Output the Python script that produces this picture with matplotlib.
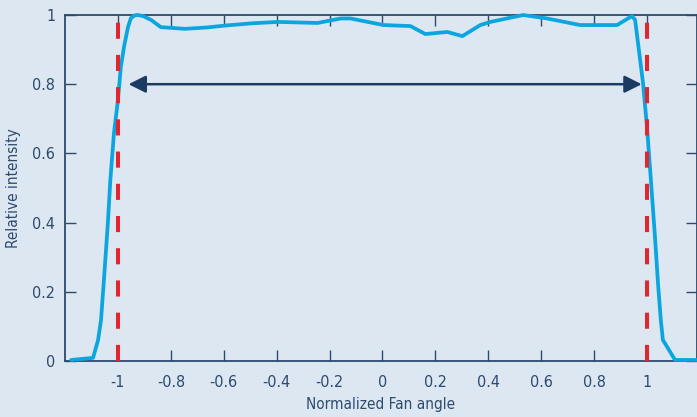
import numpy as np
import matplotlib.pyplot as plt

# intensity profile
angle = [-1.177, -1.094, -1.075, -1.064, -1.053, -1.038, -1.029, -1.015,
         -1.0, -0.989, -0.977, -0.962, -0.951, -0.937, -0.925, -0.905, -0.875,
         -0.838, -0.747, -0.664, -0.588, -0.494, -0.396, -0.245, -0.158, -0.121,
         0.004, 0.106, 0.162, 0.245, 0.302, 0.370, 0.408, 0.532, 0.622, 0.747,
         0.823, 0.887, 0.943, 0.955, 0.966, 0.985, 1.0, 1.015, 1.030, 1.042,
         1.052, 1.060, 1.106, 1.189]
intensity = [0.003, 0.009, 0.061, 0.118, 0.234, 0.399, 0.52, 0.659,
             0.754, 0.85, 0.908, 0.965, 0.991, 0.999, 1.0, 0.997, 0.986,
             0.965, 0.960, 0.964, 0.970, 0.976, 0.980, 0.977, 0.990, 0.990,
             0.971, 0.968, 0.945, 0.951, 0.939, 0.971, 0.980, 1.0, 0.990, 0.971,
             0.971, 0.971, 0.997, 0.986, 0.919, 0.803, 0.676, 0.52, 0.36, 0.22,
             0.12, 0.061, 0.003, 0.003]

edges = [-1, 1]
arrow_from, arrow_to, arrow_y = -0.96, 0.98, 0.8

xticks = [-1, -0.8, -0.6, -0.4, -0.2, 0, 0.2, 0.4, 0.6, 0.8, 1]
yticks = [0, 0.2, 0.4, 0.6, 0.8, 1]

bg = '#dde7f1'
navy = '#2b4a6e'
plt.rcParams['font.family'] = ['DejaVu Sans']
plt.rcParams['font.stretch'] = 'condensed'

fig = plt.figure(figsize=(6.97, 4.17), dpi=100, facecolor=bg)
ax = fig.add_axes([0.0933, 0.1343, 0.9067, 0.8297], facecolor=bg)

ax.plot(angle, intensity, color='#0ba6df', lw=2.7, solid_capstyle='round',
        solid_joinstyle='round', clip_on=False, zorder=3)
for e in edges:
    ax.plot([e, e], [0, 1], color='#e0262f', lw=2.9, dashes=(4, 4), zorder=4)
ax.annotate('', xy=(arrow_from, arrow_y), xytext=(arrow_to, arrow_y),
            arrowprops=dict(arrowstyle='<|-|>', color='#1b3b62', lw=1.8,
                            mutation_scale=26, shrinkA=0, shrinkB=0), zorder=5)

ax.set_xlim(-1.2, 1.189)
ax.set_ylim(0, 1)
ax.set_xticks(xticks)
ax.set_yticks(yticks)
ax.set_xticklabels([f'{t:g}' for t in xticks])
ax.set_yticklabels([f'{t:g}' for t in yticks])
ax.tick_params(direction='in', top=True, right=True, length=8, width=1.0,
               color=navy, labelcolor=navy, labelsize=11.5)
ax.tick_params(axis='x', pad=10)
ax.tick_params(axis='y', pad=7)
for s in ax.spines.values():
    s.set_color(navy)
    s.set_linewidth(1.3)

ax.set_xlabel('Normalized Fan angle', color=navy, fontsize=11, labelpad=5)
ax.set_ylabel('Relative intensity', color=navy, fontsize=11, labelpad=8)

fig.savefig('out.png', dpi=100, facecolor=bg)
